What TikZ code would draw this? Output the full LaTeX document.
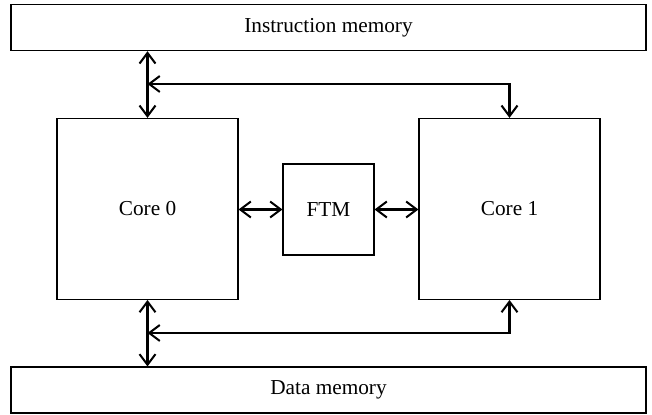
\documentclass[tikz,border=0pt]{standalone}
\usepackage{fontspec}
\setmainfont{Liberation Serif}
\usetikzlibrary{arrows.meta}
\tikzset{
  block/.style={draw, line width=0.5pt, inner sep=0pt, font=\fontsize{10}{12}\selectfont},
  link/.style={line width=0.95pt, {Straight Barb[length=5pt,width=7.5pt]}-{Straight Barb[length=5pt,width=7.5pt]}}
}
\begin{document}
\begin{tikzpicture}[x=0.47pt, y=-0.47pt]
  \useasboundingbox (0,0) rectangle (652,415);
  % memories
  \node[block, minimum width=298.45pt, minimum height=21.62pt] (imem) at (328.5,27.7) {Instruction memory};
  \node[block, minimum width=298.45pt, minimum height=21.62pt] (dmem) at (328.5,390) {Data memory};
  % cores and fault-tolerance module
  \node[block, minimum width=85.07pt, minimum height=85.07pt] (core0) at (147.5,208.9) {Core 0};
  \node[block, minimum width=85.07pt, minimum height=85.07pt] (core1) at (509.5,208.9) {Core 1};
  \node[block, minimum width=42.77pt, minimum height=42.77pt] (ftm) at (328.5,209.5) {FTM};
  % bus taps
  \coordinate (itap) at (147.5,84);
  \coordinate (dtap) at (147.5,333);
  % connections
  \draw[link] (imem.south -| core0.north) -- (core0.north);
  \draw[link] (itap) -| (core1.north);
  \draw[link] (dmem.north -| core0.south) -- (core0.south);
  \draw[link] (dtap) -| (core1.south);
  \draw[link] (core0.east |- ftm.west) -- (ftm.west);
  \draw[link] (ftm.east) -- (core1.west |- ftm.east);
\end{tikzpicture}
\end{document}
